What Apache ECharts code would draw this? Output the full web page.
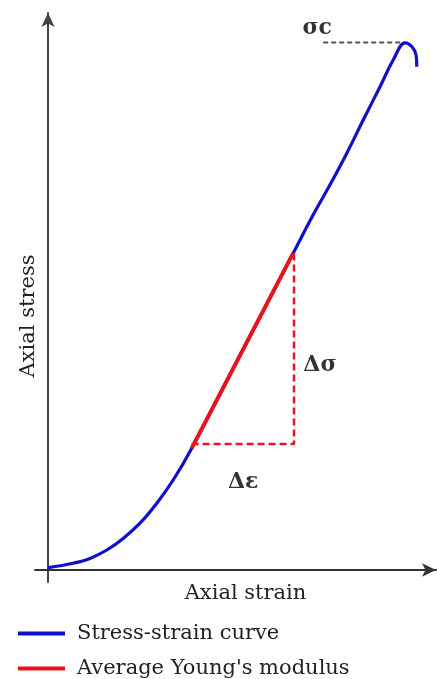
<!DOCTYPE html>
<html>
<head>
<meta charset="utf-8">
<script src="https://cdn.jsdelivr.net/npm/echarts@6/dist/echarts.min.js"></script>
<style>
  html, body { margin: 0; padding: 0; background: #fff; }
  #chart { width: 437px; height: 679px; }
</style>
</head>
<body>
<div id="chart"></div>
<script>
// values (arbitrary units, 1 unit ~ 4px)
const strainCurve = [
  [0, 0.6], [6.3, 1.7], [10.5, 2.9], [14.7, 5.0], [18.8, 7.9], [23, 11.7],
  [27.2, 16.7], [31.3, 22.5], [35.9, 30.4], [48.6, 54.8], [61.3, 79.2],
  [66.3, 88.8], [70.5, 96.3], [74.7, 104.2], [78.8, 112.5], [83, 120.8],
  [86.3, 127.5], [89.3, 131.8], [91, 130.8], [92, 128.8], [92.2, 125.8]
]
const modulusLine = [[35.9, 30.4], [61.3, 79.2]]
const deltaPath = [[35.9, 31.5], [61.5, 31.5], [61.5, 79.2]]
const peakLine = [[68.8, 131.9], [89.3, 131.9]]
const annotations = [
  { name: 'σc', value: [67.3, 135.5] },
  { name: 'Δσ', value: [68, 51.3] },
  { name: 'Δε', value: [48.8, 22] }
]
const legendNames = ['Stress-strain curve', "Average Young's modulus"]

const font = 'DejaVu Serif'
const chart = echarts.init(document.getElementById('chart'), null, { renderer: 'canvas' })

chart.setOption({
  animation: false,
  backgroundColor: '#fff',
  grid: { left: 35, right: 1, top: 13, bottom: 97, outerBoundsMode: 'none', containLabel: false },
  legend: {
    data: legendNames,
    orient: 'vertical',
    left: 13,
    top: 618,
    height: 80,
    icon: 'rect',
    itemWidth: 47,
    itemHeight: 4,
    itemGap: 14,
    textStyle: { fontFamily: font, fontSize: 21, lineHeight: 21, color: '#222', padding: [0, 0, 0, 7] }
  },
  xAxis: {
    type: 'value',
    min: -3.25,
    max: 97,
    name: 'Axial strain',
    nameLocation: 'middle',
    nameGap: 1,
    nameTextStyle: { fontFamily: font, fontSize: 21, color: '#222', padding: [0, 0, 0, 20] },
    axisLine: {
      onZero: true,
      symbol: ['none', 'arrow'],
      symbolSize: [10, 14],
      lineStyle: { color: '#333', width: 2 }
    },
    axisTick: { show: false },
    axisLabel: { show: false },
    splitLine: { show: false }
  },
  yAxis: {
    type: 'value',
    min: -3,
    max: 139.25,
    name: 'Axial stress',
    nameLocation: 'middle',
    nameGap: -4,
    nameTextStyle: { fontFamily: font, fontSize: 21, color: '#222', padding: [0, 37, 0, 0] },
    axisLine: {
      onZero: true,
      symbol: ['none', 'arrow'],
      symbolSize: [10, 14],
      lineStyle: { color: '#444', width: 2 }
    },
    axisTick: { show: false },
    axisLabel: { show: false },
    splitLine: { show: false }
  },
  series: [
    {
      name: 'Stress-strain curve',
      type: 'line',
      data: strainCurve,
      smooth: 0.4,
      symbol: 'none',
      color: '#1010c8',
      lineStyle: { color: '#1010c8', width: 3.2 },
      z: 2
    },
    {
      name: 'Average Young\'s modulus',
      type: 'line',
      data: modulusLine,
      symbol: 'none',
      color: '#e8141c',
      lineStyle: { color: '#e8141c', width: 4 },
      z: 3
    },
    {
      name: 'delta',
      type: 'line',
      data: deltaPath,
      symbol: 'none',
      lineStyle: { color: '#e8141c', width: 2.5, type: [7, 4] },
      z: 3
    },
    {
      name: 'peak',
      type: 'line',
      data: peakLine,
      symbol: 'none',
      lineStyle: { color: '#555', width: 2, type: [5, 3] },
      z: 1
    },
    {
      name: 'labels',
      type: 'scatter',
      data: annotations,
      symbolSize: 0,
      label: {
        show: true,
        position: 'inside',
        formatter: p => p.name,
        fontFamily: font,
        fontWeight: 'bold',
        fontSize: 22,
        color: '#000',
        textBorderWidth: 0
      }
    }
  ]
})
</script>
</body>
</html>
